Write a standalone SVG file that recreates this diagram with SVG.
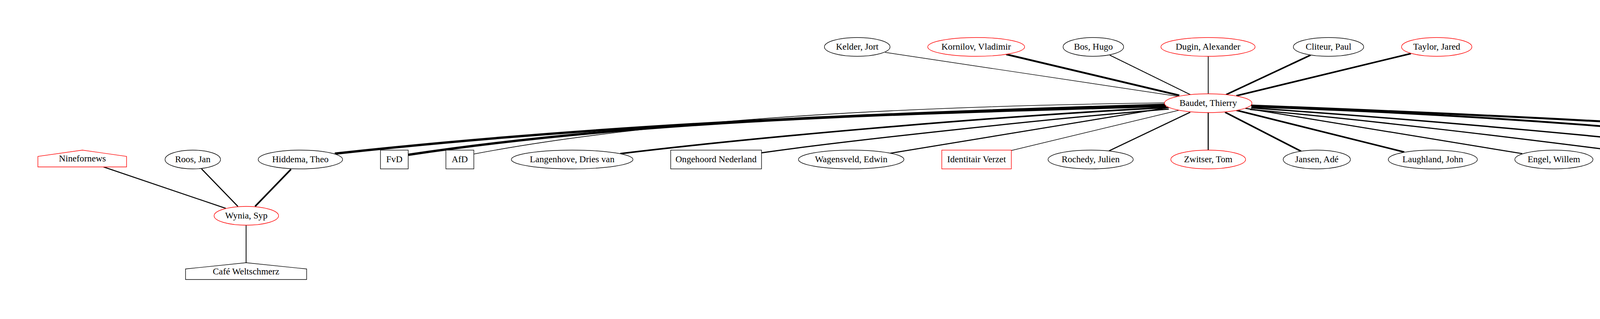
<svg xmlns="http://www.w3.org/2000/svg" width="5518" height="816" viewBox="0 0 5518 816">
<style>
.e{fill:none;stroke:#000;stroke-linecap:butt}
.n ellipse,.n rect,.n polygon{fill:#fff;stroke:#000;stroke-width:1.4}
.r ellipse,.r rect,.r polygon{stroke:#f00}
text{font-family:"Liberation Serif","Times New Roman",serif;font-size:23.3px;text-anchor:middle;fill:#000}
</style>
<rect width="5518" height="816" fill="#fff"/>
<g id="edges">
<path class="e" stroke-width="1.4" d="M2266,134L3019,247"/>
<path class="e" stroke-width="4.5" d="M2576,139L3019,244"/>
<path class="e" stroke-width="2" d="M2841,141L3049,243"/>
<path class="e" stroke-width="2" d="M3093,144L3093,240"/>
<path class="e" stroke-width="4" d="M3355,141L3139,242"/>
<path class="e" stroke-width="4" d="M3612,137L3165,245"/>
<path class="e" stroke-width="6" d="M857,393C1557,316 2283,289 2985,268"/>
<path class="e" stroke-width="6" d="M1045,396C1645,306 2283,292 2985,271"/>
<path class="e" stroke-width="1.6" d="M1213,394C1713,299 2383,271 2985,263"/>
<path class="e" stroke-width="4" d="M1588,393C1900,355 2500,300 2988,275"/>
<path class="e" stroke-width="3" d="M1949,391C2150,362 2700,302 2992,279"/>
<path class="e" stroke-width="2.7" d="M2279,392L2997,274"/>
<path class="e" stroke-width="1.6" d="M2589,385L3018,282"/>
<path class="e" stroke-width="2.7" d="M2839,386L3047,287"/>
<path class="e" stroke-width="2.7" d="M3093,288L3093,384"/>
<path class="e" stroke-width="4" d="M3136,287L3331,387"/>
<path class="e" stroke-width="4" d="M3165,282L3595,389"/>
<path class="e" stroke-width="2.7" d="M3188,277L3897,393"/>
<path class="e" stroke-width="3" d="M3200,280C3530,310 3860,350 4195,393"/>
<path class="e" stroke-width="3.5" d="M3203,276C3700,310 4200,358 4512,393"/>
<path class="e" stroke-width="4.5" d="M3204,273C3900,296 4375,345 4875,394"/>
<path class="e" stroke-width="5" d="M3203,270C3903,297 4585,330 5185,392"/>
<path class="e" stroke-width="2.5" d="M265,427L578,533"/>
<path class="e" stroke-width="2.7" d="M516,432L609,528"/>
<path class="e" stroke-width="4" d="M745,433L653,528"/>
<path class="e" stroke-width="2" d="M630,576L630,672"/>
</g>
<g id="kelder" class="n"><ellipse cx="2194.5" cy="120" rx="84" ry="24"/><text x="2194.5" y="126.5">Kelder, Jort</text></g>
<g id="kornilov" class="n r"><ellipse cx="2499" cy="120" rx="124" ry="24"/><text x="2499" y="126.5">Kornilov, Vladimir</text></g>
<g id="bos" class="n"><ellipse cx="2799" cy="120" rx="77.5" ry="24"/><text x="2799" y="126.5">Bos, Hugo</text></g>
<g id="dugin" class="n r"><ellipse cx="3092.5" cy="120" rx="120.5" ry="24"/><text x="3092.5" y="126.5">Dugin, Alexander</text></g>
<g id="cliteur" class="n"><ellipse cx="3401" cy="120" rx="90" ry="24"/><text x="3401" y="126.5">Cliteur, Paul</text></g>
<g id="taylor" class="n r"><ellipse cx="3678" cy="120" rx="90" ry="24"/><text x="3678" y="126.5">Taylor, Jared</text></g>
<g id="baudet" class="n r"><ellipse cx="3093" cy="264" rx="112" ry="24"/><text x="3093" y="270.5">Baudet, Thierry</text></g>
<g id="ninefornews" class="n r"><polygon points="324,427 97,427 97,400 211,384 324,400"/><text x="211" y="413">Ninefornews</text></g>
<g id="roos" class="n"><ellipse cx="493.5" cy="408" rx="71" ry="24"/><text x="493.5" y="414.5">Roos, Jan</text></g>
<g id="hiddema" class="n"><ellipse cx="769" cy="408" rx="108" ry="24"/><text x="769" y="414.5">Hiddema, Theo</text></g>
<g id="fvd" class="n"><rect x="974" y="384" width="71" height="48"/><text x="1009.5" y="414.5">FvD</text></g>
<g id="afd" class="n"><rect x="1141.5" y="384" width="71.5" height="48"/><text x="1177" y="414.5">AfD</text></g>
<g id="langenhove" class="n"><ellipse cx="1464.7" cy="408" rx="155.7" ry="24"/><text x="1464.7" y="414.5">Langenhove, Dries van</text></g>
<g id="ongehoord" class="n"><rect x="1717" y="384" width="232.5" height="48"/><text x="1833" y="414.5">Ongehoord Nederland</text></g>
<g id="wagensveld" class="n"><ellipse cx="2179" cy="408" rx="135" ry="24"/><text x="2179" y="414.5">Wagensveld, Edwin</text></g>
<g id="identitair" class="n r"><rect x="2411" y="384" width="178" height="48"/><text x="2500" y="414.5">Identitair Verzet</text></g>
<g id="rochedy" class="n"><ellipse cx="2792" cy="408" rx="109" ry="24"/><text x="2792" y="414.5">Rochedy, Julien</text></g>
<g id="zwitser" class="n r"><ellipse cx="3093" cy="408" rx="95.7" ry="24"/><text x="3093" y="414.5">Zwitser, Tom</text></g>
<g id="jansen" class="n"><ellipse cx="3371" cy="408" rx="86" ry="24"/><text x="3371" y="414.5">Jansen, Adé</text></g>
<g id="laughland" class="n"><ellipse cx="3668" cy="408" rx="114" ry="24"/><text x="3668" y="414.5">Laughland, John</text></g>
<g id="engel" class="n"><ellipse cx="3978" cy="408" rx="100" ry="24"/><text x="3978" y="414.5">Engel, Willem</text></g>
<g id="teeuw" class="n"><ellipse cx="4281" cy="408" rx="106" ry="24"/><text x="4281" y="414.5">Teeuw, Tommy</text></g>
<g id="wolferen" class="n"><ellipse cx="4620" cy="408" rx="137.5" ry="24"/><text x="4620" y="414.5">Wolferen, Karel van</text></g>
<g id="lanser" class="n"><ellipse cx="4957" cy="408" rx="104" ry="24"/><text x="4957" y="414.5">Lanser, Fausto</text></g>
<g id="werff" class="n r"><ellipse cx="5289" cy="408" rx="133" ry="24"/><text x="5289" y="414.5">Werff, Max van der</text></g>
<g id="wynia" class="n r"><ellipse cx="630.6" cy="552" rx="82.5" ry="24"/><text x="630.6" y="558.5">Wynia, Syp</text></g>
<g id="cafe" class="n"><polygon points="785,715 475,715 475,688 630,672 785,688"/><text x="630" y="701.5">Café Weltschmerz</text></g>
</svg>
